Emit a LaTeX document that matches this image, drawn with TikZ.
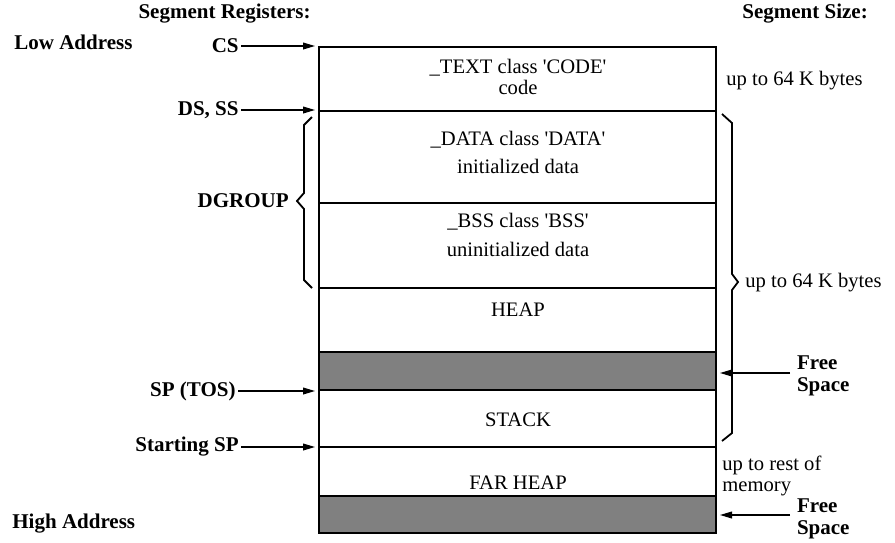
\documentclass[tikz,border=0pt]{standalone}
\usepackage{fontspec}
\setmainfont{Liberation Serif}
\usetikzlibrary{arrows.meta}

\begin{document}
\begin{tikzpicture}[x=0.5pt, y=-0.5pt,
  segbox/.style={draw=black, line width=0.9pt, shape=rectangle, minimum width=198.5pt, inner sep=0pt, outer sep=0pt, anchor=north west},
  freebox/.style={segbox, fill=black!50},
  seglabel/.style={align=center, font=\fontsize{10.3}{10.5}\selectfont},
  reglabel/.style={font=\fontsize{10.5}{11}\selectfont\bfseries, anchor=east, inner sep=1pt},
  sizelabel/.style={anchor=west, align=left, inner sep=0pt, font=\fontsize{10.3}{10.5}\selectfont},
  freelabel/.style={anchor=west, align=left, font=\fontsize{10.5}{11}\selectfont\bfseries},
  ptr/.style={line width=0.6pt, -{Triangle[length=6pt, width=3.4pt]}, shorten >=2pt}]

\useasboundingbox (0,0) rectangle (895,542);

\node[segbox, minimum height=32pt] (textseg) at (319,47) {};
\node[segbox, minimum height=46pt] (dataseg) at (textseg.south west) {};
\node[segbox, minimum height=42.5pt] (bssseg) at (dataseg.south west) {};
\node[segbox, minimum height=32pt] (heapseg) at (bssseg.south west) {};
\node[freebox, minimum height=19pt] (gapone) at (heapseg.south west) {};
\node[segbox, minimum height=28.5pt] (stackseg) at (gapone.south west) {};
\node[segbox, minimum height=24.5pt] (farseg) at (stackseg.south west) {};
\node[freebox, minimum height=18.5pt] (gaptwo) at (farseg.south west) {};

\node[seglabel] (textlbl) at (518,77) {\_TEXT class \textquotesingle CODE\textquotesingle\\code};
\node[seglabel, font=\fontsize{10.3}{14}\selectfont] (datalbl) at (518,152) {\_DATA class \textquotesingle DATA\textquotesingle\\initialized data};
\node[seglabel, font=\fontsize{10.3}{14.5}\selectfont] (bsslbl) at (518,235) {\_BSS class \textquotesingle BSS\textquotesingle\\uninitialized data};
\node[seglabel] (heaplbl) at (518,310) {HEAP};
\node[seglabel] (stacklbl) at (518,420) {STACK};
\node[seglabel] (farlbl) at (518,483) {FAR HEAP};

\node[reglabel] (reghead) at (313,14) {Segment Registers:};
\node[reglabel, anchor=west] (lowaddr) at (12,42) {Low Address};
\node[reglabel, anchor=west] (highaddr) at (10,524) {High Address};
\node[reglabel] (cs) at (241,46) {CS};
\node[reglabel] (dsss) at (241,110) {DS, SS};
\node[reglabel] (dgroup) at (291,201) {DGROUP};
\node[reglabel] (sptos) at (238,391) {SP (TOS)};
\node[reglabel] (startsp) at (241,447) {Starting SP};

\node[reglabel, anchor=west] (sizehead) at (740,14) {Segment Size:};
\node[sizelabel] (sizecode) at (726,81) {up to 64 K bytes};
\node[sizelabel] (sizedgroup) at (745,283) {up to 64 K bytes};
\node[sizelabel] (sizefar) at (722,476) {up to rest of\\memory};
\node[freelabel] (freeone) at (790,376) {Free\\Space};
\node[freelabel] (freetwo) at (790,519) {Free\\Space};

\draw[ptr] (cs) -- (cs -| textseg.west);
\draw[ptr] (dsss) -- (dsss -| dataseg.west);
\draw[ptr] (sptos) -- (sptos -| stackseg.west);
\draw[ptr] (startsp) -- (startsp -| farseg.west);
\draw[ptr] ([yshift=1.5pt]freeone.west) -- ([yshift=1.5pt]freeone.west -| gapone.east);
\draw[ptr] ([yshift=2pt]freetwo.west) -- ([yshift=2pt]freetwo.west -| gaptwo.east);

% braces
\draw[line width=0.9pt] (312,117) -- (304,125) -- (304,193) -- (297,201) -- (304,209) -- (304,280) -- (312,288);
\draw[line width=0.9pt] (722,114) -- (732,123) -- (732,274) -- (738,282) -- (732,290) -- (732,433) -- (722,441);

\end{tikzpicture}
\end{document}
